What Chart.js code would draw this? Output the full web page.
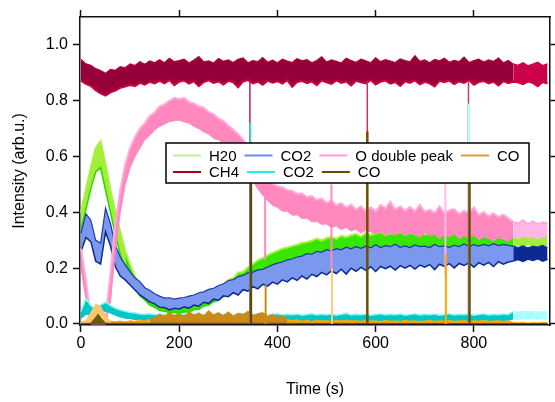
<!DOCTYPE html>
<html>
<head>
<meta charset="utf-8">
<script src="https://cdn.jsdelivr.net/npm/chart.js@4.4.1/dist/chart.umd.min.js"></script>
<style>
  html, body { margin: 0; padding: 0; background: #fff; }
  #wrap { width: 555px; height: 402px; }
</style>
</head>
<body>
<div id="wrap"><canvas id="chart"></canvas></div>
<script>
// sample times (s)
const times = [0,10,20,30,40,50,60,70,80,90,100,110,120,130,140,150,160,170,180,190,
  200,210,220,230,240,250,260,270,280,290,300,310,320,330,340,350,360,370,380,390,
  400,410,420,430,440,450,460,470,480,490,500,510,520,530,540,550,560,570,580,590,
  600,610,620,630,640,650,660,670,680,690,700,710,720,730,740,750,760,770,780,790,
  800,810,820,830,840,850,860,870,880,890,900,910,920,930,940,950];

// each trace is stored as the lower / upper edge of its noise band
const ch4Lo = [.872,.86,.853,.838,.826,.818,.83,.836,.846,.851,.856,.852,.864,.858,.868,.862,
  .871,.862,.874,.856,.868,.872,.861,.87,.852,.867,
  .873,.864,.869,.858,.871,.866,.848,.869,.874,.862,
  .868,.857,.872,.865,.87,.861,.874,.85,.867,.871,
  .863,.869,.856,.872,.866,.86,.873,.864,.869,.855,
  .871,.866,.862,.874,.858,.868,.872,.861,.867,.853,
  .87,.864,.873,.859,.868,.862,.851,.871,.866,.872,
  .86,.869,.864,.874,.857,.867,.871,.862,.868,.855,
  .87,.863,.868,.866,.859,.869,.864,.852,.867,.862];
const ch4Hi = [.948,.932,.927,.915,.908,.898,.912,.909,.922,.918,.932,.926,.94,.931,.943,.936,
  .947,.936,.952,.94,.944,.949,.935,.946,.958,.939,
  .943,.935,.951,.941,.946,.937,.948,.953,.936,.944,
  .94,.955,.938,.945,.936,.949,.942,.937,.951,.943,
  .947,.936,.944,.957,.939,.946,.941,.935,.952,.944,
  .938,.949,.943,.936,.954,.94,.947,.942,.937,.95,
  .944,.939,.961,.941,.946,.936,.948,.943,.952,.938,
  .945,.94,.956,.937,.944,.949,.939,.946,.941,.953,
  .936,.944,.932,.927,.936,.925,.931,.938,.926,.932];

const h2oLo = [.34,.41,.485,.545,.56,.48,.40,.32,.25,.20,
  .158,.128,.10,.086,.068,.06,.048,.046,.04,.042,
  .038,.044,.043,.052,.053,.064,.068,.08,.085,.098,
  .108,.12,.133,.141,.155,.162,.17,.184,.187,.196,
  .203,.206,.214,.209,.222,.226,.22,.236,.241,.232,
  .247,.251,.243,.259,.262,.255,.266,.258,.27,.264,
  .268,.274,.262,.27,.276,.265,.272,.259,.273,.268,
  .276,.266,.271,.275,.262,.274,.269,.277,.264,.272,
  .268,.276,.263,.271,.274,.261,.27,.275,.279,.285,
  .278,.287,.282,.276,.285,.283];
const h2oHi = [.40,.48,.56,.63,.655,.57,.48,.40,.33,.262,
  .212,.17,.142,.12,.108,.09,.085,.076,.076,.07,
  .074,.073,.081,.083,.093,.097,.109,.114,.128,.134,
  .158,.163,.184,.186,.203,.214,.228,.236,.247,.255,
  .262,.27,.274,.279,.284,.29,.293,.298,.306,.299,
  .308,.312,.305,.316,.311,.318,.323,.313,.326,.319,
  .324,.33,.318,.326,.321,.332,.32,.327,.323,.335,
  .321,.328,.324,.319,.331,.322,.327,.334,.32,.325,
  .329,.321,.33,.324,.318,.327,.323,.331,.316,.312,
  .319,.31,.316,.314,.32,.313];

const co2Lo = [.26,.31,.295,.225,.215,.33,.28,.205,.172,.158,.14,.122,.104,.092,.079,
  .072,.06,.059,.05,.056,.054,.061,.057,.068,.064,
  .078,.074,.089,.085,.101,.098,.112,.104,.123,.118,
  .134,.126,.142,.136,.15,.143,.158,.151,.165,.156,
  .172,.161,.178,.17,.185,.176,.19,.181,.196,.179,
  .20,.189,.203,.192,.205,.188,.206,.198,.207,.193,
  .209,.20,.21,.197,.211,.204,.213,.195,.214,.206,
  .216,.201,.217,.21,.219,.203,.22,.211,.221,.206,
  .223,.214,.222,.226,.231,.224,.233,.228,.234,.225,
  .232];
const co2Hi = [.325,.395,.372,.30,.29,.415,.36,.282,.24,.212,.188,.165,.152,.13,.121,
  .108,.10,.093,.094,.089,.093,.095,.10,.104,.112,
  .115,.124,.128,.138,.144,.156,.159,.17,.174,.183,
  .186,.194,.196,.204,.212,.218,.222,.23,.233,.24,
  .243,.252,.25,.26,.257,.266,.262,.27,.266,.275,
  .269,.277,.271,.279,.273,.284,.274,.281,.277,.286,
  .275,.28,.274,.283,.277,.279,.274,.285,.277,.28,
  .275,.282,.277,.287,.278,.284,.279,.285,.28,.288,
  .281,.285,.282,.279,.274,.28,.273,.279,.276,.282,
  .274];

const oLo = [.20,.09,0,0,0,0,.08,.26,.40,.50,
  .56,.60,.63,.66,.675,.695,.708,.716,.725,.728,
  .73,.724,.72,.708,.70,.688,.68,.665,.66,.646,
  .632,.612,.594,.57,.545,.512,.485,.462,
  .442,.425,.418,.404,.404,.39,.391,.378,.379,.366,
  .368,.357,.358,.346,.351,.338,.346,.333,.34,.325,
  .336,.33,.322,.331,.316,.328,.318,.333,.314,.326,
  .32,.31,.327,.316,.322,.306,.319,.312,.324,.305,
  .316,.309,.318,.301,.312,.306,.297,.31,.303,.296,
  .312,.306,.315,.309,.313,.305,.312,.31];
const oHi = [.27,.16,.02,.012,.012,.02,.18,.36,.48,.57,
  .63,.67,.70,.72,.745,.758,.78,.787,.80,.81,
  .805,.81,.795,.79,.78,.775,.76,.752,.736,.728,
  .71,.697,.68,.662,.632,.604,.572,.546,
  .522,.503,.494,.49,.48,.477,.466,.468,.455,.458,
  .445,.449,.435,.441,.426,.433,.417,.428,.41,.422,
  .405,.418,.404,.426,.415,.438,.41,.422,.406,.419,
  .404,.427,.402,.41,.398,.421,.397,.408,.412,.394,
  .405,.399,.418,.39,.401,.386,.397,.383,.392,.38,
  .366,.36,.372,.358,.368,.357,.364,.361];

const cyanLo = [.02,.034,.036,.03,.04,.046,.039,.031,.025,.021,
  .019,.016,.015,.012,.013,.011,.013,.01,.012,.014,
  .01,.012,.009,.013,.011,.012,.01,.013,.011,.009,
  .012,.01,.013,.011,.009,.012,.01,.013,.011,.012,
  .009,.012,.01,.013,.011,.009,.012,.01,.013,.011,
  .012,.009,.011,.013,.01,.012,.009,.012,.011,.013,
  .01,.012,.009,.011,.013,.01,.012,.011,.009,.012,
  .01,.013,.011,.009,.012,.01,.013,.011,.012,.009,
  .012,.01,.013,.011,.009,.012,.01,.013,.018,.016,
  .019,.017,.02,.016,.019,.017];
const cyanHi = [.045,.09,.066,.055,.068,.078,.066,.056,.05,.046,
  .041,.039,.036,.035,.037,.033,.036,.032,.035,.031,
  .034,.036,.032,.035,.031,.034,.037,.032,.035,.033,
  .036,.031,.034,.037,.032,.035,.033,.036,.031,.034,
  .037,.032,.035,.033,.036,.031,.034,.037,.032,.035,
  .033,.036,.031,.035,.038,.032,.035,.033,.036,.031,
  .034,.037,.032,.035,.033,.036,.031,.034,.037,.032,
  .035,.033,.036,.031,.034,.037,.032,.035,.033,.036,
  .031,.034,.037,.032,.035,.033,.036,.034,.044,.041,
  .046,.042,.045,.04,.044,.042];

const coGold = [.008,.012,.04,.072,.062,.03,.01,.008,.011,.007,
  .012,.009,.014,.01,.018,.022,.035,.028,.042,.03,
  .038,.026,.045,.032,.04,.029,.048,.033,.041,.03,
  .044,.028,.039,.034,.046,.03,.037,.041,.027,.035,
  .024,.03,.016,.012,.015,.01,.013,.009,.014,.011,
  .012,.009,.013,.01,.014,.011,.012,.009,.013,.01,
  .012,.008,.013,.01,.011,.009,.013,.01,.012,.008,
  .011,.013,.009,.012,.01,.013,.009,.011,.012,.008,
  .012,.01,.013,.009,.011,.012,.009,.012,.006,.004,
  .006,.003,.005,.004,.006,.004];

const coBrownT = [0, 20, 28, 35, 42, 50, 950];
const coBrown = [.002, .003, .02, .035, .018, .003, .002];

// short excursions: [time, from, to]
const ch4Dips = [[344, .87, 0], [583, .87, 0], [789, .87, 0]];
const cyanSpikes = [[345, 0, .72], [790, 0, .79]];
const oDips = [[375, .52, .23], [510, .5, .2], [742, .55, .17]];
const goldSpikes = [[376, 0, .14], [511, 0, .2], [743, 0, .25]];
const brownSpikes = [[346, 0, .62], [583, 0, .69], [791, 0, .6]];

const xTicks = [0, 200, 400, 600, 800];
const yTicks = [0, 0.2, 0.4, 0.6, 0.8, 1.0];

const legendNames = ['H20', 'CO2', 'O double peak', 'CO', 'CH4', 'CO2', 'CO'];
const legendColors = ['#c2f294', '#6a8cee', '#ff9ad8', '#dc9a38', '#a00010', '#22eeee', '#6b4a00'];

const RUN2_END = 880;   // second run stops here, the first carries on

function pts(vals, ts) {
  return (ts || times).map((x, i) => ({ x: x, y: vals[i] }));
}
function split(a, b) {
  return typeof a === 'function' ? a : ctx => (ctx.p0.parsed.x >= RUN2_END ? b : a);
}

const sets = [];   // pushed bottom layer first

function band(lo, hi, s) {
  sets.push({
    data: pts(hi), fill: '+1',
    borderColor: s.hiLine, borderWidth: s.hiWidth,
    segment: { backgroundColor: split(s.fillA, s.fillB), borderColor: split(s.hiLine, s.hiLineB || s.hiLine) }
  });
  sets.push({
    data: pts(lo), fill: false,
    borderColor: s.loLine, borderWidth: s.loWidth,
    segment: { borderColor: split(s.loLine, s.loLineB || s.loLine) }
  });
}

function spikes(list, colors, width) {
  list.forEach((s, i) => {
    sets.push({
      data: [{ x: s[0], y: s[1] }, { x: s[0], y: s[2] }],
      fill: false, borderColor: colors[i], borderWidth: width
    });
  });
}

// water: lime around the early peak, green later, lime again after the second run ends
function h2oFill(ctx) {
  const t = ctx.p0.parsed.x;
  if (t < 90 || t >= RUN2_END) return '#a2ee3a';
  return '#36e600';
}

band(h2oLo, h2oHi, { fillA: h2oFill, hiLine: '#a4f23c', hiWidth: 2,
  loLine: '#2ad800', loLineB: '#9cee30', loWidth: 1.5 });
band(co2Lo, co2Hi, { fillA: '#7a98ee', fillB: '#0c2a94', hiLine: '#1a3aa8', hiWidth: 1.2,
  loLine: '#0c2a94', loWidth: 1.5 });
band(oLo, oHi, { fillA: '#ff88be', fillB: '#ffb8e6', hiLine: '#ffaadd', hiWidth: 2,
  loLine: '#ff88be', loLineB: '#ffb8e6', loWidth: 1 });
band(ch4Lo, ch4Hi, { fillA: '#96003a', fillB: '#cc0048', hiLine: '#b0003f', hiLineB: '#cc0048', hiWidth: 1.2,
  loLine: '#cc0048', loWidth: 2 });
band(cyanLo, cyanHi, { fillA: '#00c6c6', fillB: '#aaffff', hiLine: '#88f4f4', hiLineB: '#aaffff', hiWidth: 1.5,
  loLine: '#00c6c6', loLineB: '#aaffff', loWidth: 1 });

function goldColor(ctx) {
  const t = ctx.p0.parsed.x;
  if (t < 60) return '#ffc66e';
  if (t >= 140 && t < 420) return '#c98a16';
  return '#ffa800';
}
sets.push({
  data: pts(coGold), fill: { value: 0 }, borderColor: '#ffa800', borderWidth: 1,
  segment: { backgroundColor: goldColor, borderColor: goldColor }
});
sets.push({
  data: pts(coBrown, coBrownT), fill: { value: 0 }, borderColor: '#6b5200', backgroundColor: '#6b5a08', borderWidth: 1
});

spikes(ch4Dips, ['#c4204f', '#c43060', '#cc3a66'], 1.5);
spikes(cyanSpikes, ['#44dddd', '#aaffff'], 2);
spikes(oDips, ['#ff88be', '#ff88be', '#ffbbe6'], 2);
spikes(goldSpikes, ['#c98a16', '#ffcc77', '#ffa800'], 2);
spikes(brownSpikes, ['#5e4a06', '#6b5200', '#6b4a00'], 2.5);

// first pushed sits at the bottom
sets.forEach((d, i) => { d.order = sets.length - i; d.pointRadius = 0; d.tension = 0; });

const legendBox = {
  id: 'legendBox',
  afterDatasetsDraw(chart) {
    const { ctx, chartArea: ca } = chart;
    const left = ca.left + 86, top = ca.top + 126, w = 363, h = 40;
    ctx.save();
    ctx.fillStyle = '#fff';
    ctx.fillRect(left, top, w, h);
    ctx.lineWidth = 1.5;
    ctx.strokeStyle = '#000';
    ctx.strokeRect(left, top, w, h);
    ctx.font = '15px "Liberation Sans", Arial, sans-serif';
    ctx.textBaseline = 'middle';
    const rows = [[0, 1, 2, 3], [4, 5, 6]];
    rows.forEach((row, r) => {
      const y = top + 12.5 + r * 16.5;
      let x = left + 7;
      row.forEach(k => {
        ctx.strokeStyle = legendColors[k];
        ctx.lineWidth = 2;
        ctx.beginPath();
        ctx.moveTo(x, y);
        ctx.lineTo(x + 28, y);
        ctx.stroke();
        ctx.fillStyle = '#000';
        ctx.fillText(legendNames[k], x + 36, y + 1);
        x += 36 + ctx.measureText(legendNames[k]).width + 8;
      });
    });
    ctx.restore();
  }
};

Chart.defaults.font.family = '"Liberation Sans", Arial, Helvetica, sans-serif';
Chart.defaults.color = '#000';

const frameGrid = { display: true, drawOnChartArea: false, drawTicks: true, tickLength: 7,
  tickColor: '#111', tickWidth: 1.5 };
const frameBorder = { display: true, color: '#111', width: 1.5 };

new Chart(document.getElementById('chart'), {
  type: 'line',
  data: { datasets: sets },
  plugins: [legendBox],
  options: {
    responsive: true,
    maintainAspectRatio: false,
    devicePixelRatio: 1,
    animation: false,
    parsing: false,
    layout: { padding: 0 },
    plugins: { legend: { display: false }, tooltip: { enabled: false } },
    scales: {
      x: {
        type: 'linear', position: 'bottom', min: -2, max: 955,
        afterBuildTicks: s => { s.ticks = xTicks.map(v => ({ value: v })); },
        afterFit: s => { s.height = 77; },
        ticks: { font: { size: 16 }, padding: 2, maxRotation: 0, callback: v => String(v) },
        grid: frameGrid, border: frameBorder,
        title: { display: true, text: 'Time (s)', font: { size: 16 }, padding: { top: 0, bottom: 3 } }
      },
      x2: {
        type: 'linear', position: 'top', min: -2, max: 955,
        afterBuildTicks: s => { s.ticks = xTicks.map(v => ({ value: v })); },
        afterFit: s => { s.height = 17; },
        ticks: { display: false },
        grid: frameGrid, border: frameBorder
      },
      y: {
        type: 'linear', position: 'left', min: -0.0036, max: 1.1,
        afterBuildTicks: s => { s.ticks = yTicks.map(v => ({ value: v })); },
        afterFit: s => { s.width = 80; },
        ticks: { font: { size: 16 }, padding: 5, callback: v => v.toFixed(1) },
        grid: frameGrid, border: frameBorder,
        title: { display: true, text: 'Intensity (arb.u.)', font: { size: 16 }, padding: { top: 10, bottom: 0 } }
      },
      y2: {
        type: 'linear', position: 'right', min: -0.0036, max: 1.1,
        afterBuildTicks: s => { s.ticks = yTicks.map(v => ({ value: v })); },
        afterFit: s => { s.width = 5; },
        ticks: { display: false },
        grid: frameGrid, border: frameBorder
      }
    }
  }
});
</script>
</body>
</html>
